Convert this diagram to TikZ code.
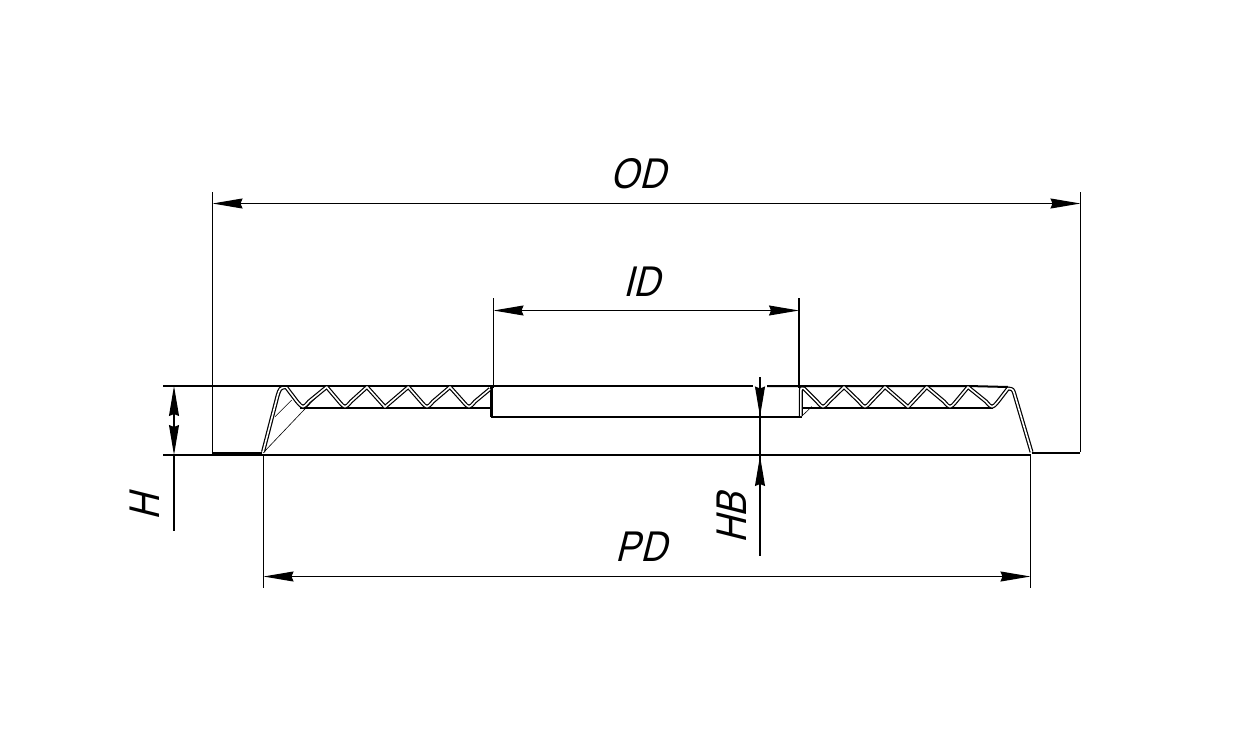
\documentclass[tikz,border=0pt]{standalone}
\usepackage{fontspec}
\usetikzlibrary{arrows.meta}
\newfontfamily\dimfont[FakeSlant=0.25,FakeStretch=0.85]{Liberation Sans}
\tikzset{
    dimtip/.tip={Stealth[length=15pt,width=5pt,inset=1pt]},
    dimline/.style={line width=0.55pt, dimtip-dimtip},
    leaderline/.style={line width=0.55pt, -dimtip},
    extline/.style={line width=0.55pt},
    mainline/.style={line width=1pt},
    sheet/.style={double, line width=0.6pt, double distance=0.8pt, line join=round},
    thinline/.style={line width=0.3pt},
    dimtext/.style={font=\dimfont\fontsize{21.5}{21.5}\selectfont, inner sep=0pt}
}

\begin{document}
\begin{tikzpicture}[x=0.5pt,y=-0.5pt]
        \useasboundingbox (0,0) rectangle (1235,755);

        %outline
        \draw[mainline] (263,455) -- (1031,455);
        \draw[mainline] (212,452.5) -- (262,452.5);
        \draw[mainline] (1032,452.5) -- (1080,452.5);
        \draw[mainline] (285,386) -- (753,386);
        \draw[mainline] (767,386) -- (968,386) -- (1008,387);
        \draw[line width=1.3pt] (491.5,386) -- (491.5,416.5);
        \draw[mainline] (491,416.5) -- (802,416.5);
        \draw[mainline] (300,408) -- (491,408);
        \draw[mainline] (803,408) -- (993,408);

        %thin lines
        \draw[thinline] (263,453) -- (326.7,386);
        \draw[thinline] (275,416.7) -- (291.7,400);
        \draw[thinline] (803,415) -- (811.7,406.7);

        %sheet left
        \draw[sheet] (263,452) -- (277.5,396) .. controls (280,388) .. (286,387)
            -- (297,401.5) .. controls (303,408.5) .. (309,401.5) -- (326.7,387)
            -- (339,401.5) .. controls (345,408.5) .. (351,401.5) -- (367,387)
            -- (385,407) -- (408.3,387)
            -- (421,401.5) .. controls (427,408.5) .. (433,401.5) -- (450,387)
            -- (463,401.5) .. controls (469,408.5) .. (475,401.5) -- (490,389);

        %sheet right
        \draw[sheet] (800.8,416) -- (800.8,391) .. controls (800.8,388) .. (804,388.5)
            -- (817,401.5) .. controls (823,408.5) .. (829,401.5) -- (844,387)
            -- (859,401.5) .. controls (865,408.5) .. (871,401.5) -- (885,387)
            -- (908,407) -- (926.7,387)
            -- (944,401.5) .. controls (950,408.5) .. (956,401.5) -- (968,387)
            -- (986,401.5) .. controls (992,408.5) .. (998,401.5) -- (1008,388.5)
            .. controls (1013,389) .. (1015,396) -- (1031.5,452);

        %extension lines
        \draw[extline] (212.5,192) -- (212.5,452);
        \draw[extline] (1080.5,192) -- (1080.5,452);
        \draw[extline] (493.5,298) -- (493.5,388);
        \draw[extline] (799,298) -- (799,388);
        \draw[extline] (263.5,455) -- (263.5,588);
        \draw[extline] (1030.5,455) -- (1030.5,588);
        \draw[extline] (163,386) -- (290,386);
        \draw[extline] (163,455) -- (263,455);
        \draw[extline] (174,455) -- (174,531);
        \draw[extline] (760,377) -- (760,556);

        %dimensions
        \coordinate (odleft) at (212.5,203.5);
        \coordinate (odright) at (1080.5,203.5);
        \coordinate (idleft) at (493.5,310.5);
        \coordinate (idright) at (799,310.5);
        \coordinate (pdleft) at (263.5,576.5);
        \coordinate (pdright) at (1030.5,576.5);
        \coordinate (htop) at (174,386);
        \coordinate (hbottom) at (174,455);
        \coordinate (hbtop) at (760,386);
        \coordinate (hbplate) at (760,416.5);
        \coordinate (hbbase) at (760,456);
        \coordinate (hbfoot) at (760,486);
        \draw[dimline] (odleft) -- (odright);
        \draw[dimline] (idleft) -- (idright);
        \draw[dimline] (pdleft) -- (pdright);
        \draw[dimline] (htop) -- (hbottom);
        \draw[leaderline] (hbtop) -- (hbplate);
        \draw[leaderline] (hbfoot) -- (hbbase);

        %labels
        \node[dimtext] (odlabel) at (638,173.5) {OD};
        \node[dimtext] (idlabel) at (642,281.5) {ID};
        \node[dimtext] (pdlabel) at (641,546.5) {PD};
        \node[dimtext,rotate=90] (hlabel) at (144.5,507) {H};
        \node[dimtext,rotate=90] (hblabel) at (732,518) {HB};
    \end{tikzpicture}
\end{document}
